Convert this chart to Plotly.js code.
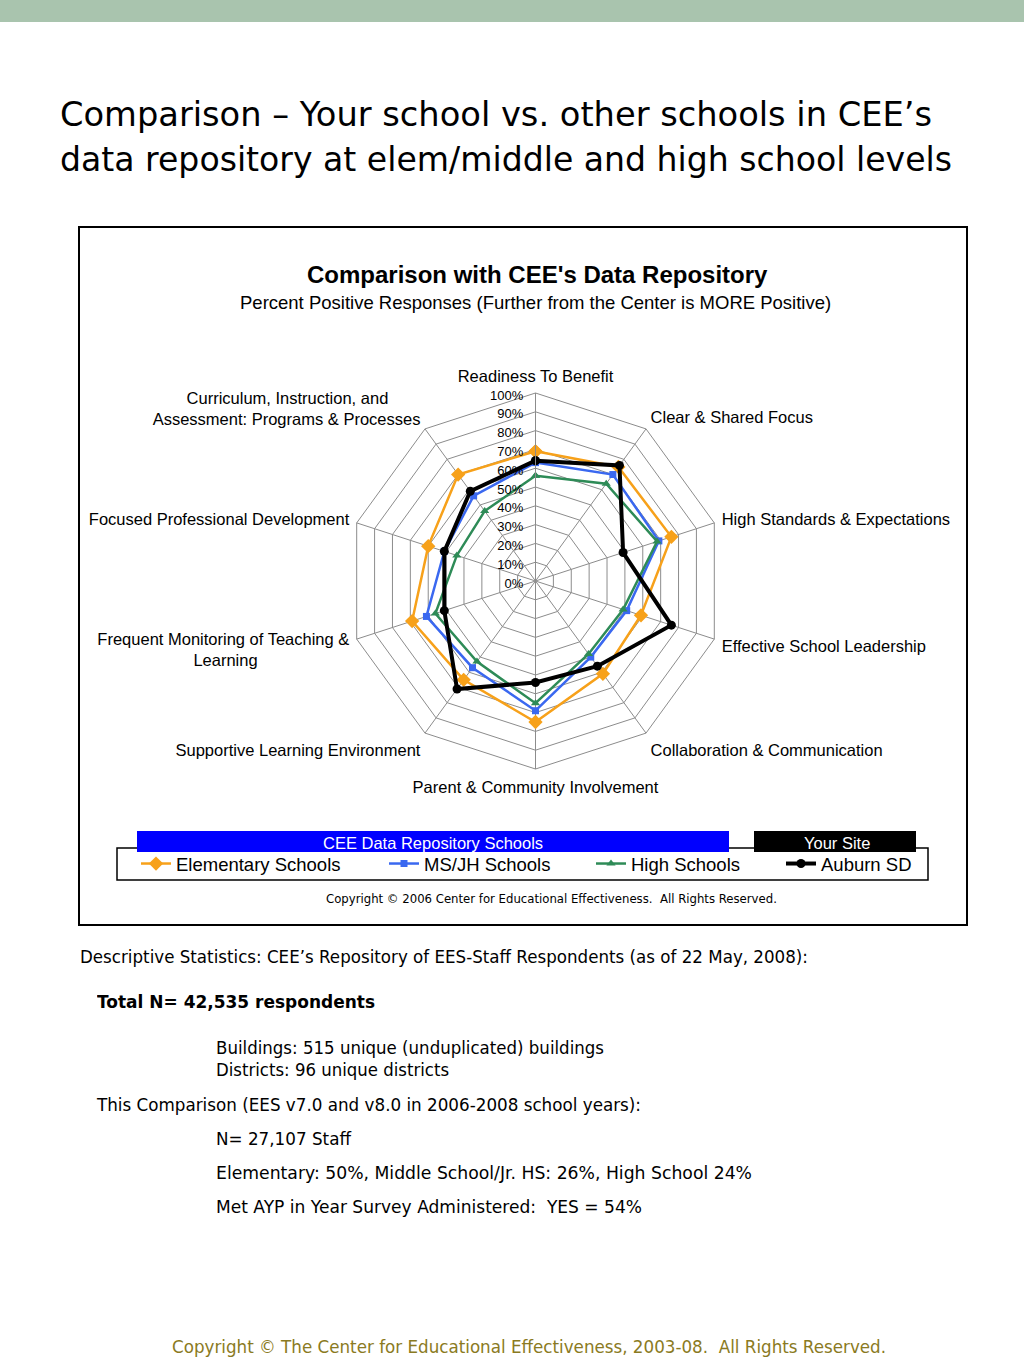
<!DOCTYPE html>
<html>
<head>
<meta charset="utf-8">
<script src="https://cdn.plot.ly/plotly-3.0.1.min.js"></script>
<style>
  html, body { margin:0; padding:0; background:#fff; }
  body { width:1024px; height:1365px; position:relative; overflow:hidden; font-family:"DejaVu Sans", Verdana, sans-serif; }
  .bar { position:absolute; left:0; top:0; width:1024px; height:22px; background:#a9c4ae; }
  .t { position:absolute; white-space:nowrap; color:#000; display:inline-block; transform-origin:0 50%; }
  #chart { position:absolute; left:80px; top:228px; width:886px; height:696px; outline:2px solid #000; }
</style>
</head>
<body>
<div class="bar"></div>
<span class="t fit" data-w="872" style="left:60px; top:92px; font-size:33px; line-height:46px;">Comparison – Your school vs. other schools in CEE’s</span>
<span class="t fit" data-w="892" style="left:60px; top:137px; font-size:33px; line-height:46px;">data repository at elem/middle and high school levels</span>
<div id="chart"></div>
<span class="t fit" data-w="728" style="left:80px; top:946px; font-size:17px; line-height:22px;">Descriptive Statistics: CEE’s Repository of EES-Staff Respondents (as of 22 May, 2008):</span>
<span class="t fit" data-w="278" style="left:97px; top:991px; font-size:17px; line-height:22px; font-weight:bold;">Total N= 42,535 respondents</span>
<span class="t fit" data-w="388" style="left:216px; top:1037px; font-size:17px; line-height:22px;">Buildings: 515 unique (unduplicated) buildings</span>
<span class="t fit" data-w="233" style="left:216px; top:1059px; font-size:17px; line-height:22px;">Districts: 96 unique districts</span>
<span class="t fit" data-w="544" style="left:97px; top:1094px; font-size:17px; line-height:22px;">This Comparison (EES v7.0 and v8.0 in 2006-2008 school years):</span>
<span class="t fit" data-w="135" style="left:216px; top:1128px; font-size:17px; line-height:22px;">N= 27,107 Staff</span>
<span class="t fit" data-w="536" style="left:216px; top:1162px; font-size:17px; line-height:22px;">Elementary: 50%, Middle School/Jr. HS: 26%, High School 24%</span>
<span class="t fit" data-w="426" style="left:216px; top:1196px; font-size:17px; line-height:22px;">Met AYP in Year Survey Administered:&nbsp; YES = 54%</span>
<span class="t fit" data-w="714" style="left:172px; top:1336px; font-size:17px; line-height:22px; color:#8a7a22;">Copyright © The Center for Educational Effectiveness, 2003-08.&nbsp; All Rights Reserved.</span>

<script>
document.querySelectorAll(".fit").forEach(el => {
  const w = el.getBoundingClientRect().width;
  const target = parseFloat(el.dataset.w);
  if (w > 0) el.style.transform = "scaleX(" + (target / w) + ")";
});

const NB = "\u00A0";
const categories = [
  "Readiness To Benefit",
  "Clear & Shared Focus",
  "High Standards & Expectations",
  "Effective School Leadership",
  "Collaboration & Communication",
  "Parent & Community Involvement",
  "Supportive Learning Environment",
  "Frequent Monitoring of Teaching &<br>Learning" + NB.repeat(20),
  "Focused Professional Development",
  "Curriculum, Instruction, and" + NB.repeat(7) + "<br>Assessment: Programs & Processes"
];
const elementary = [0.69, 0.75, 0.76, 0.59, 0.61, 0.75, 0.65, 0.69, 0.60, 0.70];
const msjh       = [0.63, 0.70, 0.69, 0.51, 0.50, 0.69, 0.57, 0.61, 0.51, 0.56];
const high       = [0.56, 0.64, 0.68, 0.49, 0.48, 0.65, 0.53, 0.56, 0.44, 0.46];
const auburn     = [0.64, 0.76, 0.49, 0.76, 0.56, 0.54, 0.71, 0.51, 0.51, 0.59];
const seriesNames = ["Elementary Schools", "MS/JH Schools", "High Schools", "Auburn SD"];
const radialTicks = [0, 0.1, 0.2, 0.3, 0.4, 0.5, 0.6, 0.7, 0.8, 0.9, 1.0];

function closed(a) { return a.concat([a[0]]); }
const theta = closed(categories);

const styles = [
  {color:"#f7a11a", width:2.5, symbol:"diamond", size:11},
  {color:"#3a68f0", width:2.5, symbol:"square", size:7},
  {color:"#2e8b57", width:2.5, symbol:"triangle-up", size:8},
  {color:"#000000", width:4, symbol:"circle", size:9}
];
const legendIds = ["legend", "legend2", "legend3", "legend4"];
const data = [elementary, msjh, high, auburn].map((vals, i) => ({
  type: "scatterpolar",
  r: closed(vals),
  theta: theta,
  name: seriesNames[i],
  legend: legendIds[i],
  mode: "lines+markers",
  line: {color: styles[i].color, width: styles[i].width},
  marker: {color: styles[i].color, symbol: styles[i].symbol, size: styles[i].size},
  cliponaxis: false
}));

const W = 886, H = 696;
const px = x => (x - 80) / W;
const py = y => (H - (y - 228)) / H;
const FONT = "Liberation Sans, Arial, sans-serif";

function leg(xAbs) {
  return {
    orientation: "h",
    x: px(xAbs), xanchor: "left",
    y: py(864), yanchor: "middle",
    font: {size: 18.5, family: FONT, color: "#000"},
    bgcolor: "rgba(0,0,0,0)",
    borderwidth: 0,
    itemwidth: 30
  };
}

const layout = {
  width: W, height: H,
  margin: {l:0, r:0, t:0, b:0},
  paper_bgcolor: "#fff",
  font: {family: FONT, color: "#000"},
  showlegend: true,
  legend: leg(136),
  legend2: leg(384),
  legend3: leg(591),
  legend4: leg(781),
  polar: {
    domain: {x: [px(535.5-188), px(535.5+188)], y: [py(581+188), py(581-188)]},
    bgcolor: "#fff",
    gridshape: "linear",
    angularaxis: {
      type: "category",
      direction: "clockwise",
      rotation: 90,
      showline: true,
      linecolor: "#8c8c8c",
      linewidth: 1,
      gridcolor: "#8c8c8c",
      gridwidth: 1,
      ticks: "outside",
      ticklen: 4,
      tickcolor: "rgba(0,0,0,0)",
      tickfont: {size: 16.5, family: FONT, color: "#000"}
    },
    radialaxis: {
      range: [0, 1],
      tickvals: radialTicks,
      tickformat: ".0%",
      angle: 90,
      side: "counterclockwise",
      showline: true,
      linecolor: "#8c8c8c",
      gridcolor: "#8c8c8c",
      gridwidth: 1,
      ticks: "",
      tickfont: {size: 13, family: FONT, color: "#000"}
    }
  },
  shapes: [
    {type:"rect", xref:"paper", yref:"paper", x0:px(117), x1:px(928), y0:py(880), y1:py(848), line:{color:"#000", width:1.5}, fillcolor:"rgba(0,0,0,0)"},
    {type:"rect", xref:"paper", yref:"paper", x0:px(137), x1:px(729), y0:py(852), y1:py(831), line:{width:0}, fillcolor:"#0000ff"},
    {type:"rect", xref:"paper", yref:"paper", x0:px(754), x1:px(916), y0:py(852), y1:py(831), line:{width:0}, fillcolor:"#000000"}
  ],
  annotations: [
    {text:"<b>Comparison with CEE's Data Repository</b>", xref:"paper", yref:"paper", x:px(537), y:py(275), xanchor:"center", yanchor:"middle", showarrow:false, font:{size:24, family:FONT}},
    {text:"Percent Positive Responses (Further from the Center is MORE Positive)", xref:"paper", yref:"paper", x:px(535.5), y:py(302), xanchor:"center", yanchor:"middle", showarrow:false, font:{size:18.5, family:FONT}},
    {text:"CEE Data Repository Schools", xref:"paper", yref:"paper", x:px(433), y:py(843), xanchor:"center", yanchor:"middle", showarrow:false, font:{size:16.5, color:"#fff", family:FONT}},
    {text:"Your Site", xref:"paper", yref:"paper", x:px(837), y:py(843), xanchor:"center", yanchor:"middle", showarrow:false, font:{size:16.5, color:"#fff", family:FONT}},
    {text:"Copyright © 2006 Center for Educational Effectiveness.  All Rights Reserved.", xref:"paper", yref:"paper", x:px(552), y:py(898), xanchor:"center", yanchor:"middle", showarrow:false, font:{size:13, family:"Liberation Sans Narrow, DejaVu Sans Condensed, Arial Narrow, sans-serif"}}
  ]
};

Plotly.newPlot("chart", data, layout, {displayModeBar:false, staticPlot:true});
</script>
</body>
</html>
